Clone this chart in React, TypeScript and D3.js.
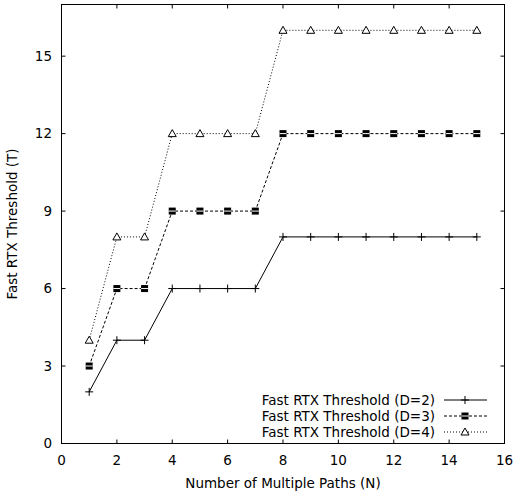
import React from "react";
import * as d3 from "d3";

const paths = [1, 2, 3, 4, 5, 6, 7, 8, 9, 10, 11, 12, 13, 14, 15];
const thresholdD2 = [2, 4, 4, 6, 6, 6, 6, 8, 8, 8, 8, 8, 8, 8, 8];
const thresholdD3 = [3, 6, 6, 9, 9, 9, 9, 12, 12, 12, 12, 12, 12, 12, 12];
const thresholdD4 = [4, 8, 8, 12, 12, 12, 12, 16, 16, 16, 16, 16, 16, 16, 16];
const seriesNames = ["Fast RTX Threshold (D=2)", "Fast RTX Threshold (D=3)", "Fast RTX Threshold (D=4)"];
const xTicks = [0, 2, 4, 6, 8, 10, 12, 14, 16];
const yTicks = [0, 3, 6, 9, 12, 15];

const W = 513;
const H = 495;
const left = 61.5;
const right = 504.5;
const top = 4.5;
const bottom = 443.5;
const font = "DejaVu Sans, sans-serif";
const fs = 13.5;

type Mark = "plus" | "box" | "tri";

const Marker = ({ x, y, kind }: { x: number; y: number; kind: Mark }) => {
  if (kind === "plus")
    return (
      <path d={`M${x - 4},${y}H${x + 4}M${x},${y - 4}V${y + 4}`} stroke="#000" strokeWidth={1} />
    );
  if (kind === "box")
    return (
      <g>
        <rect x={x - 3.5} y={y - 3.5} width={7} height={7} fill="#000" />
        <line x1={x - 3.5} x2={x + 3.5} y1={y} y2={y} stroke="#fff" strokeWidth={1} />
      </g>
    );
  return (
    <path d={`M${x},${y - 4}L${x + 4},${y + 3}L${x - 4},${y + 3}Z`} fill="#fff" stroke="#000" strokeWidth={1} />
  );
};

export default function App() {
  const x = d3.scaleLinear().domain([0, 16]).range([left, right]);
  const y = d3.scaleLinear().domain([0, 17]).range([bottom, top]);
  const line = d3
    .line<[number, number]>()
    .x((d) => x(d[0]))
    .y((d) => y(d[1]));

  const series = [
    { name: seriesNames[0], values: thresholdD2, dash: undefined, kind: "plus" as Mark },
    { name: seriesNames[1], values: thresholdD3, dash: "3,2", kind: "box" as Mark },
    { name: seriesNames[2], values: thresholdD4, dash: "1,2", kind: "tri" as Mark },
  ];

  const legX = 435;
  const legY = [400, 416, 432];

  return (
    <svg width={W} height={H} style={{ position: "absolute", left: 0, top: 0 }} fontFamily={font}>
      <rect width={W} height={H} fill="#fff" />
      {series.map((s) => (
        <g key={s.name}>
          <path
            d={line(paths.map((p, i) => [p, s.values[i]] as [number, number])) || ""}
            fill="none"
            stroke="#000"
            strokeWidth={1}
            strokeDasharray={s.dash}
          />
          {paths.map((p, i) => (
            <Marker key={p} x={x(p)} y={y(s.values[i])} kind={s.kind} />
          ))}
        </g>
      ))}
      {/* legend */}
      {series.map((s, i) => (
        <g key={"leg" + s.name}>
          <text x={legX} y={legY[i]} dy="0.35em" textAnchor="end" fontSize={fs} fill="#000">
            {s.name}
          </text>
          <line x1={444} x2={487} y1={legY[i]} y2={legY[i]} stroke="#000" strokeDasharray={s.dash} />
          <Marker x={465} y={legY[i]} kind={s.kind} />
        </g>
      ))}
      {/* ticks */}
      {xTicks.map((t) => (
        <g key={"x" + t}>
          <line x1={x(t)} x2={x(t)} y1={bottom} y2={bottom - 4} stroke="#000" />
          <line x1={x(t)} x2={x(t)} y1={top} y2={top + 4} stroke="#000" />
          <text x={x(t)} y={460} dy="0.35em" textAnchor="middle" fontSize={fs} fill="#000">
            {t}
          </text>
        </g>
      ))}
      {yTicks.map((t) => (
        <g key={"y" + t}>
          <line x1={left} x2={left + 4} y1={y(t)} y2={y(t)} stroke="#000" />
          <line x1={right} x2={right - 4} y1={y(t)} y2={y(t)} stroke="#000" />
          <text x={52} y={y(t)} dy="0.35em" textAnchor="end" fontSize={fs} fill="#000">
            {t}
          </text>
        </g>
      ))}
      <rect x={left} y={top} width={right - left} height={bottom - top} fill="none" stroke="#000" strokeWidth={1} />
      <text x={(left + right) / 2} y={483} dy="0.35em" textAnchor="middle" fontSize={fs} fill="#000">
        Number of Multiple Paths (N)
      </text>
      <text
        transform={`translate(12,${(top + bottom) / 2}) rotate(-90)`}
        dy="0.35em"
        textAnchor="middle"
        fontSize={fs}
        fill="#000"
      >
        Fast RTX Threshold (T)
      </text>
    </svg>
  );
}
